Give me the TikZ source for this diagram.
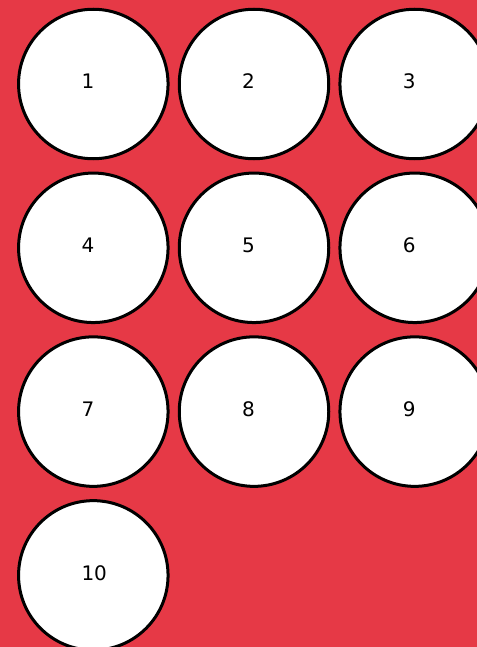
\documentclass[tikz,border=0pt]{standalone}
\usepackage{fontspec}
\setsansfont{DejaVu Sans}
\usetikzlibrary{calc}
\definecolor{bgred}{RGB}{230,57,70}
\begin{document}
\begin{tikzpicture}[x=1pt,y=-1pt,
  ball/.style={circle,draw=black,line width=3pt,fill=white,minimum size=149.5pt,inner sep=0pt},
  num/.style={anchor=base west,inner sep=0pt,font=\sffamily\fontsize{20}{24}\selectfont}]
  % background and page size
  \useasboundingbox (0,0) rectangle (476,647);
  \clip (-3,-3) rectangle (479,650);
  \fill[bgred] (-3,-3) rectangle (479,650);
  % balls 1 ... 10, three per row
  \def\dx{160.7}
  \def\dy{163.8}
  \foreach \n in {1,...,10}{
    \pgfmathtruncatemacro\col{mod(\n-1,3)}
    \pgfmathtruncatemacro\row{div(\n-1,3)}
    \node[ball] (c\n) at (93.3+\col*\dx,84+\row*\dy) {};
    \node[num] (t\n) at ($(c\n.center)+(-12,5)$) {\n};
  }
\end{tikzpicture}
\end{document}
